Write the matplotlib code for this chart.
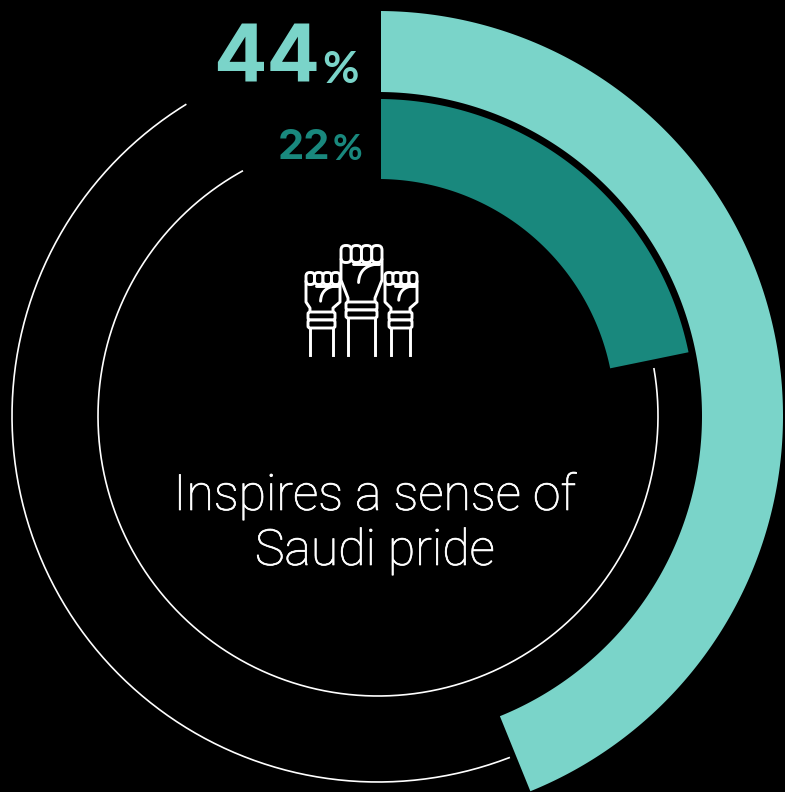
import numpy as np
from matplotlib import pyplot as plt
from matplotlib import patheffects
from matplotlib.patches import Rectangle, FancyBboxPatch, Polygon

# share of respondents, outer and inner ring
outer_pct = 44
inner_pct = 22
outer_label = "44"
inner_label = "22"
caption = ["Inspires a sense of", "Saudi pride"]

OUTER_COLOR = '#7ad4c9'
INNER_COLOR = '#19887d'

W, H = 785, 792
CX, CY = 378, 416

fig = plt.figure(figsize=(W/100, H/100), dpi=100, facecolor='black')
ax = fig.add_axes([0, 0, 1, 1])
ax.set_xlim(0, W)
ax.set_ylim(H, 0)
ax.axis('off')

def arc_xy(r, a1, a2, n=300):
	# angles measured clockwise from 12 o'clock, y axis pointing down
	t = np.radians(np.linspace(a1, a2, n))
	return CX + r*np.sin(t), CY - r*np.cos(t)

def band(r0, r1, a2, color):
	x0, y0 = arc_xy(r1, 0, a2)
	x1, y1 = arc_xy(r0, a2, 0)
	patches = ax.fill(np.r_[x0, x1], np.r_[y0, y1], color=color, lw=0)
	# the bands start on a straight cut a little right of the centre
	clip = Rectangle((381, 0), W, H, transform=ax.transData)
	patches[0].set_clip_path(clip)

band(324, 405, outer_pct*3.6 - 0.5, OUTER_COLOR)
band(237, 317, inner_pct*3.6 - 0.8, INNER_COLOR)

# thin remainder rings
x, y = arc_xy(366, 159, 328.3)
ax.plot(x, y, color='white', lw=1.2)
x, y = arc_xy(280, 80.3, 331)
ax.plot(x, y, color='white', lw=1.2)

# percentages
ax.text(320, 82, outer_label, color=OUTER_COLOR, fontsize=57, fontweight='bold', family='Inter', ha='right', va='baseline')
ax.text(359, 83, "%", color=OUTER_COLOR, fontsize=32, fontweight='bold', family='Lato', ha='right', va='baseline')
ax.text(330, 159, inner_label, color=INNER_COLOR, fontsize=30, fontweight='bold', family='Inter', ha='right', va='baseline')
ax.text(362, 160, "%", color=INNER_COLOR, fontsize=26, fontweight='bold', family='Lato', ha='right', va='baseline')

# caption, the light face needs a little more weight
heavier = [patheffects.withStroke(linewidth=0.5, foreground='white')]
ax.text(375, 510, caption[0], color='white', fontsize=36, family='Roboto', fontweight='light', ha='center', va='baseline', path_effects=heavier)
ax.text(375, 565, caption[1], color='white', fontsize=36, family='Roboto', fontweight='light', ha='center', va='baseline', path_effects=heavier)

# raised fists icon
LW = 2.1

def fist(x0, x1, top, fbot, wrist, brace0, brace1, arm0, arm1, base):
	w = (x1 - x0)/4
	# hide whatever sits behind this fist
	ax.add_patch(Polygon([(x0, top), (x1, top), (x1, fbot+15), (arm1+3, wrist), (arm1+3, brace1), (arm1, brace1), (arm1, base),
		(arm0, base), (arm0, brace1), (arm0-3, brace1), (arm0-3, wrist), (x0, fbot+15)], fc='black', ec='none', zorder=3))
	for i in range(4):
		ax.add_patch(FancyBboxPatch((x0+i*w+w/2-0.5, top+w/2), 1, fbot-top-w, boxstyle='round,pad=%f,rounding_size=%f' % (w/2-0.5, w/2-0.5),
			fc='black', ec='white', lw=LW, zorder=4))
	# back of the hand, tapering into the wrist
	ax.plot([x0, x0, arm0, arm0], [fbot-3, fbot+17, wrist-4, wrist], color='white', lw=LW, zorder=4)
	ax.plot([x1, x1, arm1, arm1], [fbot-3, fbot+17, wrist-4, wrist], color='white', lw=LW, zorder=4)
	# bracelet
	ax.add_patch(FancyBboxPatch((arm0-2, wrist), arm1-arm0+4, brace0-wrist, boxstyle='round,pad=0,rounding_size=2', fc='black', ec='white', lw=LW, zorder=4))
	ax.add_patch(FancyBboxPatch((arm0-2, brace0), arm1-arm0+4, brace1-brace0, boxstyle='round,pad=0,rounding_size=2', fc='black', ec='white', lw=LW, zorder=4))
	# forearm
	ax.plot([arm0, arm0], [brace1, base], color='white', lw=LW, zorder=4)
	ax.plot([arm1, arm1], [brace1, base], color='white', lw=LW, zorder=4)
	# thumb
	s = (x1 - x0)/42
	mx = (x0 + x1)/2
	t = np.linspace(0, 1, 30)
	py = fbot + s*(1*(1-t)**2 + 2*2*t*(1-t) + 20*t**2)
	px = mx + s*(18*(1-t)**2 - 2*2*t*(1-t) - 3*t**2)
	ax.plot(px, py, color='white', lw=LW, zorder=4, solid_capstyle='round')
	ax.plot([x0+w*1.2, mx+s*18], [fbot+1, fbot+1], color='white', lw=LW, zorder=4, solid_capstyle='round')

fist(385, 417, 272, 285, 312, 320, 328, 391, 410, 355)
fist(306, 340, 272, 285, 312, 320, 328, 310, 333, 355)
fist(341, 382, 245, 263, 302, 310, 318, 348, 375, 355)

plt.savefig('out.png', dpi=100, facecolor='black')
